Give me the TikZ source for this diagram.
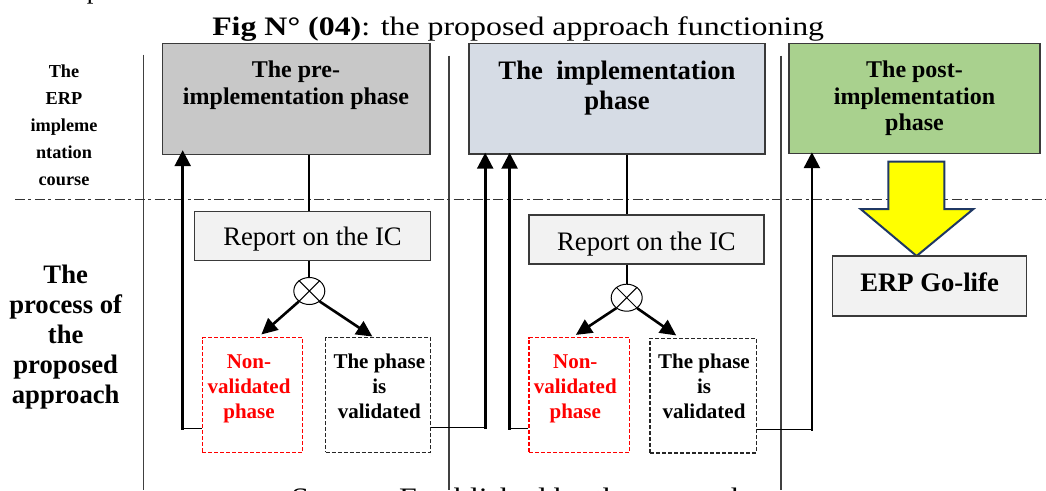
\documentclass[tikz,border=0pt]{standalone}
\usepackage{fontspec}
\usepackage{graphicx}
\setmainfont{Liberation Serif}
\usetikzlibrary{fit,arrows.meta,shapes.geometric,calc}

\definecolor{preGray}{HTML}{C8C8C8}
\definecolor{implBlue}{HTML}{D6DCE5}
\definecolor{postGreen}{HTML}{A9D18E}
\definecolor{reportGray}{HTML}{F2F2F2}
\definecolor{edgeGray}{HTML}{3A3A3A}
\definecolor{navyEdge}{HTML}{1F3864}
\definecolor{arrowYellow}{HTML}{FFFF00}

\begin{document}
% coordinates are pixels (0.75pt), y grows downwards
\begin{tikzpicture}[x=0.75pt,y=-0.75pt,
  phasebox/.style={draw=edgeGray, line width=1.1pt, inner sep=0pt},
  reportbox/.style={draw=edgeGray, fill=reportGray, line width=1.1pt, inner sep=0pt},
  failbox/.style={draw=red, dash pattern=on 3pt off 1.5pt, line width=0.9pt, inner sep=0pt},
  okbox/.style={draw=black!85, dash pattern=on 3pt off 1.5pt, line width=0.9pt, inner sep=0pt},
  lane/.style={draw=black!75, line width=0.9pt},
  divider/.style={draw=black!80, line width=0.75pt, dash pattern=on 7.5pt off 2.6pt on 2.25pt off 2.6pt},
  link/.style={draw=black, line width=1.3pt},
  loopline/.style={draw=black, line width=1pt},
  uparrow/.style={draw=black, line width=1.95pt, line cap=rect, -{Triangle[width=12pt,length=12pt]}},
  branch/.style={draw=black, line width=1.95pt, -{Triangle[width=11.5pt,length=12pt]}},
  xnode/.style={ellipse, draw=black, line width=0.75pt, minimum width=23.25pt, minimum height=20.25pt, inner sep=0pt},
  bigarrow/.style={fill=arrowYellow, draw=navyEdge, line width=1.5pt, line join=miter},
  phasetext/.style={inner sep=0pt, align=center, anchor=north, font=\bfseries\fontsize{18}{20}\selectfont},
  sidetext/.style={inner sep=0pt, align=center, anchor=north},
  smalltext/.style={inner sep=0pt, align=center, anchor=north, font=\bfseries\fontsize{15.75}{18.75}\selectfont},
  reporttext/.style={inner sep=0pt, anchor=base, font=\fontsize{20}{24}\selectfont},
  pagetext/.style={anchor=base west, inner sep=0pt, font=\fontsize{20}{24}\selectfont}
]
\useasboundingbox (0,0) rectangle (1046,490);
\clip (0,0) rectangle (1046,490);

% line of running text above the figure
\node[pagetext] (frag) at (86.5,-1.6) {p};

% caption
\node[pagetext] (title) at (212,35)
  {\scalebox{1.195}[1]{\textbf{Fig N° (04)}: the proposed approach functioning}};

% swim-lane separators
\draw[lane] (143.5,54.5) -- (143.5,490);
\draw[lane] (449,55.5) -- (449,490);
\draw[lane] (781,55.5) -- (781,490);
\draw[divider] (15,199) -- (1046,199);

% row titles
\node[sidetext, font=\bfseries\fontsize{13.7}{20.3}\selectfont] (rowA) at (64,64.3)
  {The\\ERP\\impleme\\ntation\\course};
\node[sidetext, font=\bfseries\fontsize{20}{22.6}\selectfont] (rowB) at (65.7,264.6)
  {The\\process of\\the\\proposed\\approach};

% ERP implementation phases
\node[phasebox, fill=preGray, fit={(162.5,43.3) (430,154.5)}] (pre) {};
\node[phasebox, fill=implBlue, fit={(469,43.3) (765,154)}] (impl) {};
\node[phasebox, fill=postGreen, fit={(789,43.3) (1040,153.5)}] (post) {};
\node[phasetext] (preT) at (296,60.5) {The pre-\\implementation phase};
\node[phasetext, font=\bfseries\fontsize{20}{23}\selectfont] (implT) at (617,60.3) {The\ \ implementation\\phase};
\node[phasetext] (postT) at (914.5,60.5) {The post-\\implementation\\phase};

% reports on the internal control
\node[reportbox, fit={(194.3,211.7) (430.7,260.7)}] (rep1) {};
\node[reportbox, fit={(528.9,215) (763.9,264)}] (rep2) {};
\node[reporttext] (rep1T) at (312.5,245) {Report on the IC};
\node[reporttext] (rep2T) at (646.4,250) {Report on the IC};

% decision points
\node[xnode] (x1) at (309.3,291) {};
\node[xnode] (x2) at (626.7,297.7) {};
\draw[line width=0.75pt] (x1.135) -- (x1.-45) (x1.45) -- (x1.-135);
\draw[line width=0.75pt] (x2.135) -- (x2.-45) (x2.45) -- (x2.-135);

% outcomes
\node[failbox, fit={(202.3,337.7) (302.7,452.3)}] (nv1) {};
\node[okbox, fit={(325.7,337.7) (430.7,452.3)}] (va1) {};
\node[failbox, fit={(528.9,337.7) (629.4,452.3)}] (nv2) {};
\node[okbox, fit={(650,338.3) (756.2,453)}] (va2) {};
\node[smalltext, text=red] (nv1T) at (249,354.4) {Non-\\validated\\phase};
\node[smalltext] (va1T) at (379.3,354.1) {The phase\\is\\validated};
\node[smalltext, text=red] (nv2T) at (575.3,354.4) {Non-\\validated\\phase};
\node[smalltext] (va2T) at (704,354.1) {The phase\\is\\validated};

% phase -> report -> decision
\draw[link] (x1.north |- pre.south) -- (x1.north |- rep1.north);
\draw[link] (x1.north |- rep1.south) -- (x1.north);
\draw[link] (x2.north |- impl.south) -- (x2.north |- rep2.north);
\draw[link] (x2.north |- rep2.south) -- (x2.north);

% decision branches
\draw[branch, shorten >=3pt] (x1.-135) -- ($(nv1.north west)!0.558!(nv1.north east)$);
\draw[branch, shorten >=0.75pt] (x1.-45) -- ($(va1.north west)!0.453!(va1.north east)$);
\draw[branch, shorten >=3pt] (x2.-135) -- ($(nv2.north west)!0.435!(nv2.north east)$);
\draw[branch, shorten >=3pt] (x2.-45) -- ($(va2.north west)!0.28!(va2.north east)$);

% feedback to the phases
\coordinate (c1) at (182.7,428.3);
\coordinate (c2) at (485.2,427.3);
\coordinate (c3) at (509.6,428.3);
\coordinate (c4) at (811.9,429.3);
\draw[loopline] (nv1.west |- c1) -- (c1);
\draw[uparrow, shorten >=-3.75pt] (c1) -- (c1 |- pre.south);
\draw[loopline] (va1.east |- c2) -- (c2);
\draw[uparrow, shorten >=-1.5pt] (c2) -- (c2 |- impl.south);
\draw[loopline] (nv2.west |- c3) -- (c3);
\draw[uparrow, shorten >=-1.5pt] (c3) -- (c3 |- impl.south);
\draw[loopline] (va2.east |- c4) -- (c4);
\draw[uparrow, shorten >=-1.5pt] (c4) -- (c4 |- post.south);

% go-live
\draw[bigarrow] (888.4,161.7) -- (944.4,161.7) -- (944.4,209) -- (973.4,209)
  -- (916.6,256) -- (860.6,209) -- (888.4,209) -- cycle;
\node[reportbox, fit={(832.3,256) (1026.4,316)}] (golife) {};
\node[reporttext, font=\bfseries\fontsize{20}{24}\selectfont] (golifeT) at (929.6,291.7) {ERP Go-life};

% source line below the figure
\node[pagetext] (source) at (291,506.5)
  {\scalebox{1.195}[1]{Source: Established by the researcher}};
\end{tikzpicture}
\end{document}
